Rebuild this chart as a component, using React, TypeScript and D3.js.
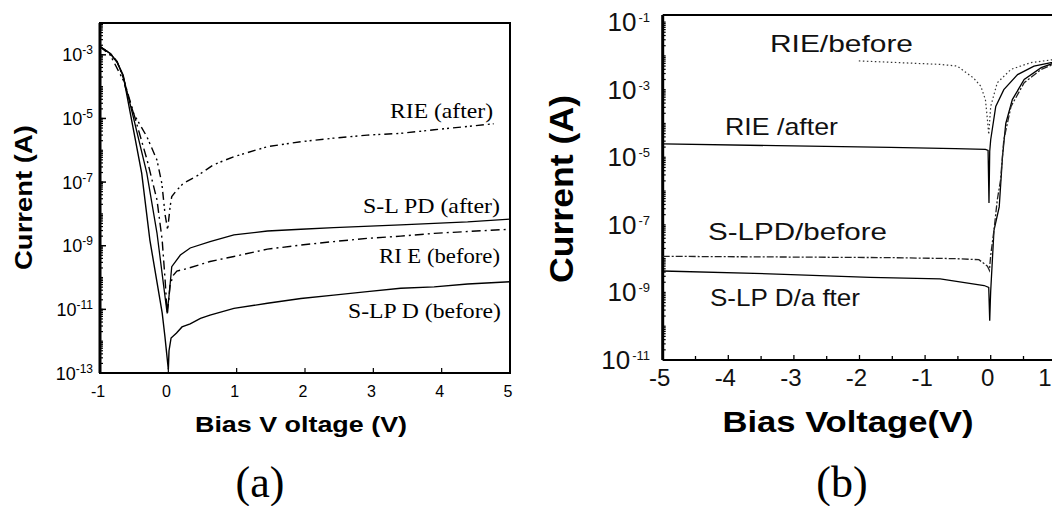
import React from 'react';
import * as d3 from 'd3';

type Pt = [number, number];

// ---------- Panel (a): Bias voltage (V) vs current (A) ----------
const aSLPDBefore: Pt[] = [
  [-1, 1.8e-3], [-0.85, 1.1e-3], [-0.75, 5.9e-4], [-0.66, 2.3e-4], [-0.63, 1.0e-4],
  [-0.51, 4.4e-6], [-0.39, 1.9e-7], [-0.27, 1.5e-9], [-0.09, 7.8e-12], [-0.05, 1.4e-12],
  [0, 1.3e-13], [0.01, 5e-13], [0.04, 1.26e-12], [0.12, 1.8e-12], [0.2, 2.8e-12],
  [0.32, 3.5e-12], [0.47, 5.2e-12], [0.61, 6.6e-12], [0.96, 1.07e-11], [1.45, 1.55e-11],
  [1.94, 2.2e-11], [2.42, 2.8e-11], [2.91, 3.6e-11], [3.4, 4.6e-11], [3.89, 5.1e-11],
  [4.38, 6.3e-11], [5, 7.4e-11],
];
const aSLPDAfter: Pt[] = [
  [-1, 1.8e-3], [-0.85, 1.1e-3], [-0.75, 5.9e-4], [-0.66, 2.1e-4], [-0.51, 1.05e-5],
  [-0.315, 1.9e-7], [-0.166, 2.5e-9], [-0.07, 5.9e-11], [-0.02, 8.3e-12], [0.005, 2e-11],
  [0.05, 2.2e-10], [0.176, 5.1e-10], [0.32, 8.5e-10], [0.61, 1.35e-9], [0.96, 2.2e-9],
  [1.45, 2.9e-9], [1.94, 3.3e-9], [2.42, 3.7e-9], [3.4, 4.5e-9], [4.38, 5.6e-9], [5, 6.9e-9],
];
const aRIEBefore: Pt[] = [
  [-1, 1.8e-3], [-0.85, 1.1e-3], [-0.75, 6.2e-4], [-0.66, 1.9e-4], [-0.485, 1.0e-5],
  [-0.31, 4.9e-7], [-0.166, 2.75e-8], [-0.09, 1.5e-9], [-0.047, 8.3e-11], [-0.015, 6.6e-12],
  [0.026, 5.9e-11], [0.075, 1.2e-10], [0.125, 1.6e-10], [0.27, 1.9e-10], [0.44, 2.45e-10],
  [0.61, 3.2e-10], [0.96, 4.6e-10], [1.45, 7.8e-10], [1.94, 1.05e-9], [2.42, 1.35e-9],
  [2.91, 1.7e-9], [3.4, 2.0e-9], [3.89, 2.45e-9], [5, 3.3e-9],
];
const aRIEAfter: Pt[] = [
  [-1, 1.8e-3], [-0.85, 9.8e-4], [-0.66, 1.6e-4], [-0.51, 1.45e-5], [-0.315, 2.7e-6],
  [-0.166, 4.9e-7], [-0.095, 9.1e-8], [-0.047, 9.3e-9], [-0.01, 3.2e-9], [0.026, 1.7e-8],
  [0.05, 3.5e-8], [0.125, 5.6e-8], [0.22, 9.1e-8], [0.44, 1.66e-7], [0.66, 3.5e-7],
  [0.96, 6.3e-7], [1.45, 1.3e-6], [1.94, 1.86e-6], [2.42, 2.4e-6], [2.91, 3.0e-6],
  [3.4, 3.4e-6], [3.89, 4.4e-6], [4.76, 6.8e-6],
];
const aXTicks = [-1, 0, 1, 2, 3, 4, 5];
const aYExps = [-3, -5, -7, -9, -11, -13];

// ---------- Panel (b) ----------
const bRIEAfter: Pt[] = [
  [-5, 2.5e-5], [-3.26, 2.2e-5], [-1.53, 1.95e-5], [-0.54, 1.8e-5], [-0.08, 1.7e-5],
  [-0.04, 1.6e-5], [-0.026, 4.4e-7], [-0.015, 1.5e-5], [0, 3.3e-5], [0.077, 3.2e-4],
  [0.2, 1e-3], [0.41, 2.8e-3], [0.66, 5e-3], [0.92, 6.3e-3], [1, 6.6e-3],
];
const bRIEBefore: Pt[] = [
  [-2.01, 7.1e-3], [-0.77, 5.6e-3], [-0.51, 5e-3], [-0.26, 2.2e-3], [-0.15, 1.26e-3],
  [-0.08, 5e-4], [-0.05, 1.3e-4], [-0.03, 4.7e-5], [0, 3.2e-4], [0.1, 1.6e-3],
  [0.31, 4e-3], [0.61, 6.3e-3], [0.92, 7.6e-3], [1, 7.8e-3],
];
const bSLPDBefore: Pt[] = [
  [-5, 1.17e-8], [-3.26, 1.12e-8], [-1.53, 1.07e-8], [-0.54, 1.0e-8], [-0.18, 9.3e-9],
  [-0.05, 6e-9], [-0.02, 4.5e-9], [0, 1.26e-8], [0.05, 6.9e-8], [0.1, 5.4e-7],
  [0.15, 2.1e-6], [0.2, 3.3e-5], [0.31, 3.2e-4], [0.51, 1.6e-3], [0.77, 4e-3],
  [0.95, 5.6e-3], [1, 5.9e-3],
];
const bSLPDAfter: Pt[] = [
  [-5, 4.3e-9], [-3.26, 3.5e-9], [-1.84, 2.8e-9], [-0.77, 2.5e-9], [-0.1, 1.6e-9],
  [-0.03, 1.4e-9], [-0.015, 1.45e-10], [-0.005, 6e-10], [0, 1.1e-9], [0.05, 6.9e-8],
  [0.13, 3.4e-7], [0.18, 1.05e-5], [0.23, 1.0e-4], [0.33, 5.1e-4], [0.51, 2e-3],
  [0.77, 4.5e-3], [0.95, 6e-3], [1, 6.3e-3],
];
const bXTicks = [-5, -4, -3, -2, -1, 0, 1];
const bXMinor = [-4.5, -3.5, -2.5, -1.5, -0.5, 0.5];
const bYExps = [-1, -3, -5, -7, -9, -11];

const SANS = '"Liberation Sans", Arial, Helvetica, sans-serif';
const SERIF = '"Liberation Serif", "Times New Roman", serif';

function minorLogTicks(lo: number, hi: number): number[] {
  const out: number[] = [];
  for (let e = lo; e < hi; e++) {
    for (let k = 1; k < 10; k++) out.push(k * Math.pow(10, e));
  }
  return out;
}

export default function App() {
  // panel a scales
  const xA = d3.scaleLinear().domain([-1, 5]).range([100, 510]);
  const yA = d3.scaleLog().domain([1e-13, 1e-2]).range([373, 23]);
  const lineA = d3.line<Pt>().x(d => xA(d[0])).y(d => yA(d[1]));
  // panel b scales
  const xB = d3.scaleLinear().domain([-5, 1]).range([662.7, 1056.3]);
  const yB = d3.scaleLog().domain([1e-11, Math.pow(10, -0.79)]).range([360, 15]);
  const lineB = d3.line<Pt>().x(d => xB(d[0])).y(d => yB(d[1]));

  const aMinor = minorLogTicks(-13, -2).filter(v => v >= 1e-13 && v <= 1e-2);
  const bMinor = minorLogTicks(-11, 0).filter(v => v >= 1e-11 && v <= Math.pow(10, -0.79));

  const [ax0, ax1] = xA.range();
  const [ay0, ay1] = [yA.range()[1], yA.range()[0]];
  const bx0 = xB.range()[0];
  const by0 = yB.range()[1];
  const by1 = yB.range()[0];

  return (
    <svg width={1052} height={506} style={{ position: 'absolute', left: 0, top: 0, background: '#fff' }}>
      <rect x={0} y={0} width={1052} height={506} fill="#fff" />
      {/* ===== Panel (a) ===== */}
      <g>
        {aMinor.map((v, i) => (
          <line key={'am' + i} x1={ax0} x2={ax0 + 3} y1={yA(v)} y2={yA(v)} stroke="#000" strokeWidth={1.2} />
        ))}
        {aYExps.map(e => (
          <line key={'aM' + e} x1={ax0} x2={ax0 + 6} y1={yA(Math.pow(10, e))} y2={yA(Math.pow(10, e))} stroke="#000" strokeWidth={1.5} />
        ))}
        {aXTicks.map(t => (
          <line key={'axt' + t} x1={xA(t)} x2={xA(t)} y1={ay1} y2={ay1 - 5} stroke="#000" strokeWidth={1.2} />
        ))}
        <rect x={ax0} y={ay0} width={ax1 - ax0} height={ay1 - ay0} fill="none" stroke="#000" strokeWidth={2} />
        <line x1={ax0} x2={ax0} y1={ay0} y2={ay1} stroke="#000" strokeWidth={3} />

        <path d={lineA(aSLPDBefore) || ''} fill="none" stroke="#000" strokeWidth={1.4} />
        <path d={lineA(aSLPDAfter) || ''} fill="none" stroke="#000" strokeWidth={1.3} />
        <path d={lineA(aRIEBefore) || ''} fill="none" stroke="#000" strokeWidth={1.4} strokeDasharray="9,4,2,4" />
        <path d={lineA(aRIEAfter) || ''} fill="none" stroke="#000" strokeWidth={1.4} strokeDasharray="8,4,2,3,2,4" />

        {aYExps.map(e => (
          <text key={'ayl' + e} x={93} y={yA(Math.pow(10, e)) + 6.5} textAnchor="end" fontFamily={SANS} fontSize={18} fill="#000">
            <tspan>10</tspan>
            <tspan dy={-7} fontSize={12}>{e}</tspan>
          </text>
        ))}
        {aXTicks.map(t => (
          <text key={'axl' + t} x={xA(t) - 2} y={397} textAnchor="middle" fontFamily={SANS} fontSize={16} fill="#000">{t}</text>
        ))}
        <text x={301} y={432} textAnchor="middle" fontFamily={SANS} fontWeight="bold" fontSize={22} textLength={212} lengthAdjust="spacingAndGlyphs">Bias V oltage (V)</text>
        <text transform="translate(32,197.5) rotate(-90)" textAnchor="middle" fontFamily={SANS} fontWeight="bold" fontSize={24} textLength={145} lengthAdjust="spacingAndGlyphs">Current (A)</text>

        <text x={390} y={118} fontFamily={SERIF} fontSize={21} textLength={103} lengthAdjust="spacingAndGlyphs">RIE (after)</text>
        <text x={363} y={213} fontFamily={SERIF} fontSize={21} textLength={137} lengthAdjust="spacingAndGlyphs">S-L PD (after)</text>
        <text x={379} y={263} fontFamily={SERIF} fontSize={21} textLength={121} lengthAdjust="spacingAndGlyphs">RI E (before)</text>
        <text x={348} y={318} fontFamily={SERIF} fontSize={21} textLength={153} lengthAdjust="spacingAndGlyphs">S-LP D (before)</text>

        <text x={260} y={497} textAnchor="middle" fontFamily={SERIF} fontSize={44}>(a)</text>
      </g>

      {/* ===== Panel (b) ===== */}
      <g>
        {bMinor.map((v, i) => (
          <line key={'bm' + i} x1={bx0} x2={bx0 + 3} y1={yB(v)} y2={yB(v)} stroke="#000" strokeWidth={1.2} />
        ))}
        {bXTicks.map(t => (
          <line key={'bxt' + t} x1={xB(t)} x2={xB(t)} y1={by1} y2={by1 - 5} stroke="#000" strokeWidth={1.3} />
        ))}
        {bXMinor.map(t => (
          <line key={'bxm' + t} x1={xB(t)} x2={xB(t)} y1={by1} y2={by1 - 4} stroke="#000" strokeWidth={1.3} />
        ))}
        <line x1={bx0} x2={1052} y1={by0} y2={by0} stroke="#000" strokeWidth={2} />
        <line x1={bx0} x2={1052} y1={by1} y2={by1} stroke="#000" strokeWidth={2} />
        <line x1={bx0} x2={bx0} y1={by0} y2={by1} stroke="#000" strokeWidth={3} />

        <path d={lineB(bRIEAfter) || ''} fill="none" stroke="#000" strokeWidth={1.3} />
        <path d={lineB(bSLPDAfter) || ''} fill="none" stroke="#000" strokeWidth={1.3} />
        <path d={lineB(bSLPDBefore) || ''} fill="none" stroke="#222" strokeWidth={1.3} strokeDasharray="7,2,2,2" />
        <path d={lineB(bRIEBefore) || ''} fill="none" stroke="#333" strokeWidth={1.2} strokeDasharray="1.5,2.5" />

        {bYExps.map(e => (
          <text key={'byl' + e} x={650} y={yB(Math.pow(10, e)) + 9} textAnchor="end" fontFamily={SANS} fontSize={26} fill="#111">
            <tspan>10</tspan>
            <tspan dy={-9} dx={2} fontSize={13}>{'-' + String(-e)}</tspan>
          </text>
        ))}
        {bXTicks.map(t => (
          <text key={'bxl' + t} x={Math.min(xB(t) - 3, 1045)} y={386} textAnchor="middle" fontFamily={SANS} fontSize={24} fill="#111">{t}</text>
        ))}
        <text x={848} y={432} textAnchor="middle" fontFamily={SANS} fontWeight="bold" fontSize={29} textLength={251} lengthAdjust="spacingAndGlyphs">Bias Voltage(V)</text>
        <text transform="translate(573,189) rotate(-90)" textAnchor="middle" fontFamily={SANS} fontWeight="bold" fontSize={34} textLength={188} lengthAdjust="spacingAndGlyphs">Current (A)</text>

        <text x={770} y={52} fontFamily={SANS} fontSize={24} fill="#111" textLength={143} lengthAdjust="spacingAndGlyphs">RIE/before</text>
        <text x={725} y={135} fontFamily={SANS} fontSize={24} fill="#111" textLength={113} lengthAdjust="spacingAndGlyphs">RIE /after</text>
        <text x={708} y={240} fontFamily={SANS} fontSize={24} fill="#111" textLength={179} lengthAdjust="spacingAndGlyphs">S-LPD/before</text>
        <text x={710} y={306} fontFamily={SANS} fontSize={24} fill="#111" textLength={150} lengthAdjust="spacingAndGlyphs">S-LP D/a fter</text>

        <text x={842} y={497} textAnchor="middle" fontFamily={SERIF} fontSize={44}>(b)</text>
      </g>
    </svg>
  );
}
